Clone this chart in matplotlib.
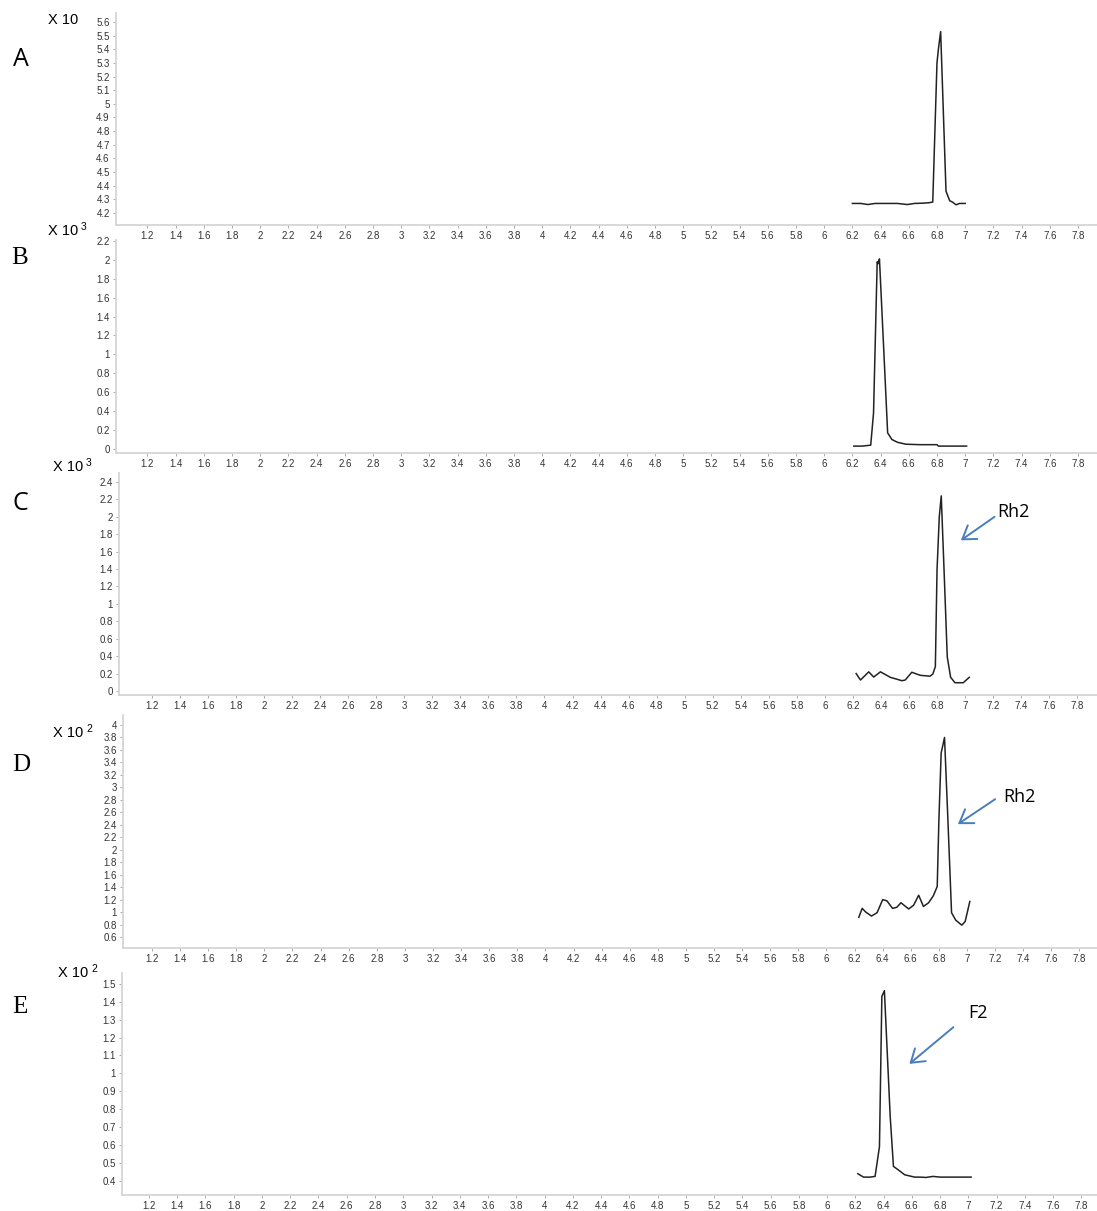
import numpy as np
import matplotlib.pyplot as plt
from matplotlib.ticker import FixedLocator, FuncFormatter

# retention time (min) / intensity traces, one per chromatogram
time_a = [6.20, 6.26, 6.31, 6.36, 6.44, 6.52, 6.59, 6.64, 6.70, 6.74, 6.77, 6.80, 6.81, 6.826, 6.864, 6.89, 6.91, 6.935, 6.96, 7.00]
resp_a = [4.27, 4.27, 4.262, 4.27, 4.27, 4.27, 4.262, 4.27, 4.272, 4.275, 4.28, 5.30, 5.40, 5.53, 4.36, 4.29, 4.28, 4.26, 4.27, 4.27]

time_b = [6.21, 6.27, 6.33, 6.35, 6.376, 6.383, 6.392, 6.43, 6.45, 6.48, 6.52, 6.58, 6.68, 6.80, 6.81, 7.01]
resp_b = [0.03, 0.03, 0.04, 0.38, 1.98, 1.96, 2.01, 0.81, 0.17, 0.10, 0.07, 0.05, 0.045, 0.045, 0.03, 0.03]

time_c = [6.223, 6.254, 6.313, 6.348, 6.396, 6.467, 6.55, 6.573, 6.62, 6.68, 6.75, 6.77, 6.788,
          6.80, 6.816, 6.83, 6.85, 6.873, 6.897, 6.928, 6.987, 7.03]
resp_c = [0.20, 0.126, 0.22, 0.16, 0.22, 0.157, 0.118, 0.126, 0.215, 0.18, 0.17, 0.195, 0.28,
          1.39, 2.00, 2.24, 1.39, 0.39, 0.157, 0.095, 0.095, 0.157]

time_d = [6.23, 6.254, 6.277, 6.32, 6.36, 6.40, 6.43, 6.47, 6.50, 6.53, 6.557, 6.585, 6.62, 6.656,
          6.69, 6.727, 6.76, 6.788, 6.80, 6.816, 6.84, 6.864, 6.89, 6.92, 6.963, 6.987, 7.02]
resp_d = [0.916, 1.06, 1.005, 0.936, 0.99, 1.20, 1.18, 1.06, 1.076, 1.15, 1.10, 1.05, 1.11, 1.27,
          1.09, 1.15, 1.26, 1.41, 2.48, 3.55, 3.80, 2.48, 0.99, 0.87, 0.79, 0.85, 1.17]

time_e = [6.218, 6.258, 6.305, 6.34, 6.371, 6.388, 6.406, 6.447, 6.47, 6.505, 6.55, 6.62, 6.66,
          6.70, 6.75, 6.80, 7.02]
resp_e = [0.439, 0.42, 0.42, 0.424, 0.59, 1.43, 1.462, 0.76, 0.48, 0.46, 0.433, 0.42, 0.42,
          0.418, 0.424, 0.42, 0.42]

panel_letters = ['A', 'B', 'C', 'D', 'E']
scale_labels = [('X 10', ''), ('X 10', '3'), ('X 10', '3'), ('X 10', '2'), ('X 10', '2')]
y_ticks = [np.round(np.arange(4.2, 5.65, 0.1), 1),
           np.round(np.arange(0, 2.25, 0.2), 1),
           np.round(np.arange(0, 2.45, 0.2), 1),
           np.round(np.arange(0.6, 4.05, 0.2), 1),
           np.round(np.arange(0.4, 1.55, 0.1), 1)]
x_ticks = np.round(np.arange(1.2, 7.85, 0.2), 1)

# peak call-outs: (label, text xy, arrow tail, arrow head) in data units
callouts = {2: ('Rh2', (7.23, 2.05), (7.21, 2.00), (6.97, 1.73)),
            3: ('Rh2', (7.26, 2.85), (7.20, 2.81), (6.935, 2.41)),
            4: ('F2', (7.00, 1.338), (6.894, 1.258), (6.583, 1.053))}

W, H = 1097, 1211
fig = plt.figure(figsize=(W / 100, H / 100), dpi=100)

# axes boxes in pixels: left, top, bottom
boxes = [(116, 13, 225), (116, 240, 453), (119, 473, 695), (123, 715, 948), (122, 973, 1195)]
xlims = [(0.977, 7.935), (0.977, 7.935), (0.965, 7.941), (0.994, 7.925), (1.009, 7.911)]
ylims = [(4.112, 5.666), (-0.043, 2.21), (-0.046, 2.503), (0.424, 4.16), (0.32, 1.561)]
letter_pos = [(21, 60), (20, 258), (20, 503), (21, 765), (20, 1007)]
letter_font = ['Open Sans', 'Liberation Serif', 'Open Sans', 'Liberation Serif', 'Liberation Serif']
scale_pos = [(48, 20), (48, 231), (53, 467), (53, 733), (58, 973)]

traces = [(time_a, resp_a), (time_b, resp_b), (time_c, resp_c), (time_d, resp_d), (time_e, resp_e)]

fmt = FuncFormatter(lambda v, p: '%g' % round(v, 1))
spine_col = '#d6d6d6'

for i, (t, r) in enumerate(traces):
    left, top, bottom = boxes[i]
    ax = fig.add_axes([left / W, 1 - bottom / H, (W - left) / W, (bottom - top) / H])
    ax.plot(t, r, color='#222222', lw=1.1)
    ax.set_xlim(*xlims[i])
    ax.set_ylim(*ylims[i])
    ax.xaxis.set_major_locator(FixedLocator(x_ticks))
    ax.yaxis.set_major_locator(FixedLocator(y_ticks[i]))
    ax.xaxis.set_major_formatter(fmt)
    ax.yaxis.set_major_formatter(fmt)
    for s in ['top', 'right']:
        ax.spines[s].set_visible(False)
    for s in ['left', 'bottom']:
        ax.spines[s].set_color(spine_col)
        ax.spines[s].set_linewidth(1.3)
    ax.tick_params(length=2.5, width=0.7, color='#aaaaaa', labelsize=7, labelcolor='#333333', pad=2)
    ax.tick_params(axis='x', pad=1.5)
    for lab in ax.get_xticklabels() + ax.get_yticklabels():
        lab.set_family('Liberation Sans')

    # panel letter and intensity multiplier
    lx, ly = letter_pos[i]
    fig.text(lx / W, 1 - ly / H, panel_letters[i], fontsize=18, family=letter_font[i],
             ha='center', va='center')
    sx, sy = scale_pos[i]
    base, sup = scale_labels[i]
    fig.text(sx / W, 1 - sy / H, base, fontsize=10.5, family='Liberation Sans', ha='left', va='center')
    if sup:
        fig.text((sx + 33) / W, 1 - (sy - 4) / H, sup, fontsize=7.5, family='Liberation Sans',
                 ha='left', va='center')

    if i in callouts:
        name, txy, tail, head = callouts[i]
        ax.text(txy[0], txy[1], name, fontsize=13, family='Open Sans', ha='left', va='center')
        ax.annotate('', xy=head, xytext=tail,
                    arrowprops=dict(arrowstyle='->,head_length=0.45,head_width=0.3',
                                    color='#4a7ebb', lw=1.4, mutation_scale=20,
                                    shrinkA=0, shrinkB=0))

fig.savefig('out.png', dpi=100)
